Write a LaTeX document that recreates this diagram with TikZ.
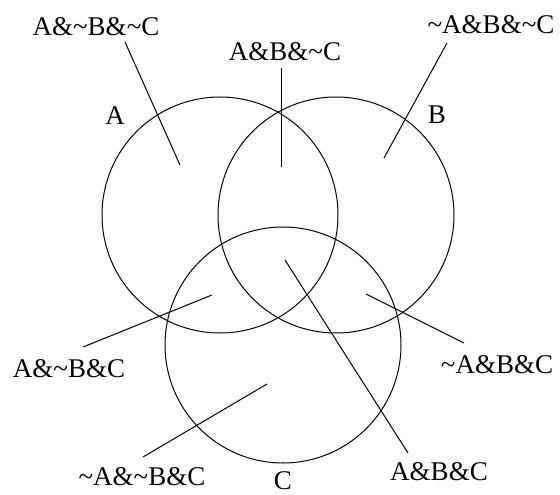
\documentclass[tikz,border=0pt]{standalone}
\usepackage{fontspec}
\setmainfont{Liberation Serif}
\usepackage{tikz}
\usetikzlibrary{positioning}
\newcommand{\nt}{\textasciitilde}

\begin{document}
\begin{tikzpicture}[x=1pt,y=-1pt, region/.style={circle,draw,minimum size=236pt,inner sep=0pt,line width=1pt}, tag/.style={font=\fontsize{27}{30}\selectfont,inner sep=0pt}, lead/.style={line width=1pt}]
  \useasboundingbox (0,0) rectangle (560,495);
  % the three sets
  \node[region] (ca) at (220,215) {};
  \node[region] (cb) at (336,215) {};
  \node[region] (cc) at (283,345) {};
  \node[tag] (na) at (115,116) {A};
  \node[tag] (nb) at (437,115) {B};
  \node[tag] (nc) at (283,481) {C};
  % region labels
  \foreach \x/\y/\i/\t in {96/27/1/{A\&\nt B\&\nt C}, 285/52/2/{A\&B\&\nt C}, 491/25/3/{\nt A\&B\&\nt C}, 69/369/4/{A\&\nt B\&C}, 142/477/5/{\nt A\&\nt B\&C}, 497/365/6/{\nt A\&B\&C}, 439/472/7/{A\&B\&C}}{\node[tag] (t\i) at (\x,\y) {\t};}
  % leader lines
  \foreach \i/\a/\b/\c/\d in {1/125/42/180/165, 2/281/68/281/167, 3/447/43/384/158, 4/83/347/212/295, 5/143/457/267/384, 6/464/343/366/294, 7/408/453/285/260}{
    \coordinate (s\i) at (\a,\b);
    \coordinate (e\i) at (\c,\d);
    \draw[lead] (s\i) -- (e\i);
  }
\end{tikzpicture}
\end{document}
